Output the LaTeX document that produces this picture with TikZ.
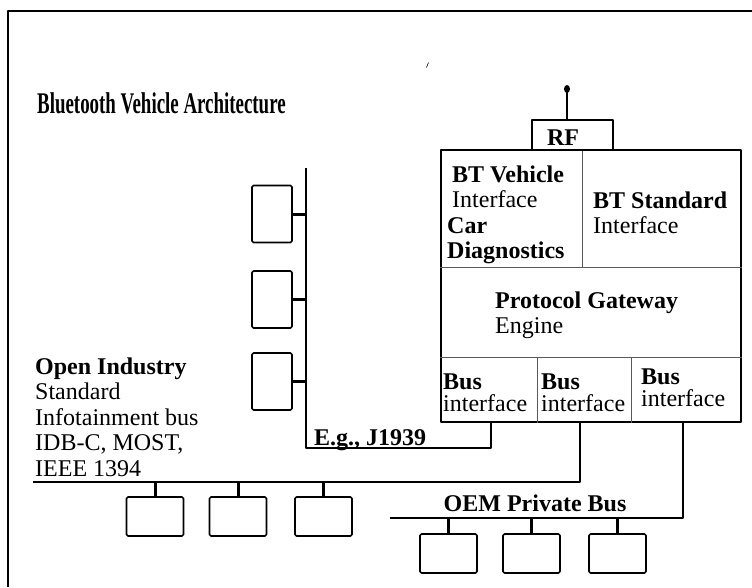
\documentclass[tikz,border=0pt]{standalone}
\usepackage{fontspec}
\setmainfont{Liberation Serif}
\tikzset{
  archbase/.style={
    x=1pt, y=-1pt,
    line join=round,
    font=\fontsize{24}{25}\selectfont,
  },
  ecu/.style={draw, line width=1.6pt, rounded corners=1.5pt, inner sep=0pt},
  busline/.style={line width=1.6pt},
  stub/.style={line width=3pt},
  divider/.style={line width=0.9pt, draw=black!65},
  celltext/.style={anchor=north west, inner sep=0pt, align=left},
  boldtext/.style={inner sep=0pt, font=\fontsize{24}{25}\selectfont\bfseries},
}
\newcommand{\busfont}{\fontsize{24}{22}\selectfont}
\newcommand{\titlefont}{\fontsize{30}{30}\selectfont\bfseries}
\begin{document}
\begin{tikzpicture}
  [archbase]
  \useasboundingbox (0,0) rectangle (752,587);
  \draw[line width=2.2pt] (8,587) -- (8,11) -- (752,11);
  \draw[line width=0.6pt] (426.5,67.5) -- (428.5,62.5);
  \node[anchor=base west, inner sep=0pt] (title) at (37,113)
    {\scalebox{0.63}[1]{\titlefont Bluetooth Vehicle Architecture}};
  % gateway box
  \node[draw, line width=1.8pt, minimum width=300, minimum height=272, inner sep=0pt] (gw) at (591,286) {};
  \draw[divider] (gw.west |- 0,267) -- (gw.east |- 0,267);
  \draw[divider] (gw.west |- 0,357) -- (gw.east |- 0,357);
  \draw[divider] (gw.north -| 582,0) -- (582,267);
  \draw[divider] (gw.south -| 537,0) -- (537,357);
  \draw[divider] (gw.south -| 631,0) -- (631,357);
  \node[draw, line width=1.6pt, minimum width=81, minimum height=30, boldtext] (rf) at (572.5,135) {};
  \node[boldtext, anchor=base] (rflabel) at (563,145) {RF};
  \coordinate (ant) at (567,89);
  \draw[line width=2pt] (ant) -- (ant |- rf.north);
  \fill (ant) ellipse (3 and 4);
  \node[celltext] (btv) at (452,165.6) {\textbf{BT Vehicle}\\Interface};
  \node[celltext] (cardiag) at (447,217.8) {\textbf{Car}\\\textbf{Diagnostics}};
  \node[celltext] (bts) at (593,191.6) {\textbf{BT Standard}\\Interface};
  \node[celltext] (pge) at (495,291.6) {\textbf{Protocol Gateway}\\Engine};
  \node[celltext, font=\busfont] (busA) at (443,374) {\textbf{Bus}\\interface};
  \node[celltext, font=\busfont] (busB) at (541,374) {\textbf{Bus}\\interface};
  \node[celltext, font=\busfont] (busC) at (641,369) {\textbf{Bus}\\interface};
  \coordinate (portA) at (gw.south -| 491,0);
  \coordinate (portB) at (gw.south -| 580,0);
  \coordinate (portC) at (gw.south -| 683,0);
  % J1939 bus
  \coordinate (jtop) at (306,168);
  \draw[busline] (jtop) -- (jtop |- 0,448) -| (portA);
  \foreach \n/\y in {1/214,2/299.5,3/381.5} {
    \node[ecu, minimum width=40, minimum height=57] (jdev\n) at (272,\y) {};
    \draw[stub] (jdev\n.east) -- (jdev\n.east -| jtop);
  }
  \node[boldtext, anchor=base west] (jlabel) at (314,445) {E.g., J1939};
  % infotainment bus
  \coordinate (ileft) at (33,482);
  \draw[busline] (ileft) -| (portB);
  \foreach \n/\x in {1/155,2/238,3/323.5} {
    \node[ecu, minimum width=57, minimum height=39] (idev\n) at (\x,516.5) {};
    \draw[stub] (idev\n.north) -- (idev\n.north |- ileft);
  }
  \node[celltext, font=\fontsize{24}{25.5}\selectfont] (openind) at (35,357.6)
    {\textbf{Open Industry}\\Standard\\Infotainment bus\\IDB-C, MOST,\\IEEE 1394};
  % OEM bus
  \coordinate (oleft) at (390,518);
  \draw[busline] (oleft) -| (portC);
  \foreach \n/\x in {1/448.5,2/531.5,3/617.5} {
    \node[ecu, minimum width=57, minimum height=39] (odev\n) at (\x,553.5) {};
    \draw[stub] (odev\n.north) -- (odev\n.north |- oleft);
  }
  \node[boldtext, anchor=base] (oemlabel) at (535,511) {OEM Private Bus};
\end{tikzpicture}
\end{document}
